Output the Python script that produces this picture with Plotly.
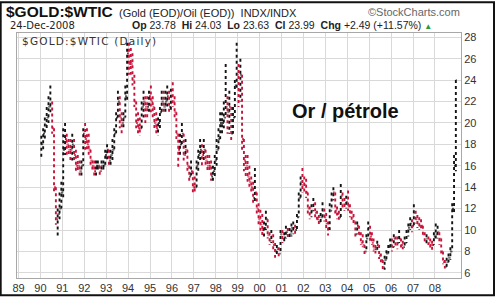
import pandas as pd
import plotly.graph_objects as go

# ---------------- data (monthly) ----------------
month_low = [
    # 1990
    16.8, 17.5, 18.5, 19.5, 20.0, 21.0, 19.0, 13.5, 10.5, 9.5, 11.0, 12.0,
    # 1991
    13.0, 17.0, 17.0, 17.0, 16.5, 16.5, 16.5, 15.5, 15.5, 15.0, 15.0, 16.0,
    # 1992
    17.5, 17.5, 17.0, 16.0, 15.5, 15.0, 15.0, 15.5, 15.0, 15.5, 15.5, 16.0,
    # 1993
    16.5, 16.0, 16.0, 16.5, 17.5, 19.0, 20.5, 19.5, 19.0, 19.5, 20.5, 22.0,
    # 1994
    24.5, 24.5, 23.5, 21.5, 19.5, 19.0, 18.8, 19.5, 20.5, 20.0, 20.5, 21.0,
    # 1995
    21.0, 20.5, 19.5, 19.0, 18.8, 19.5, 21.0, 21.0, 21.0, 21.5, 21.0, 21.0,
    # 1996
    21.5, 20.5, 18.5, 15.8, 17.0, 18.0, 16.5, 17.0, 15.5, 14.5, 15.0, 13.4,
    # 1997
    13.4, 14.0, 15.5, 16.5, 16.0, 16.5, 16.0, 15.5, 15.5, 14.6, 14.6, 15.0,
    # 1998
    16.0, 17.5, 18.5, 19.0, 19.5, 20.5, 19.0, 19.0, 18.2, 19.5, 20.5, 23.0,
    # 1999
    21.5, 22.0, 17.5, 15.5, 15.0, 14.5, 14.0, 13.5, 12.5, 12.5, 11.5, 10.5,
    # 2000
    9.8, 9.5, 9.2, 10.0, 9.2, 8.6, 8.8, 8.2, 7.4, 7.6, 7.4, 7.8,
    # 2001
    8.8, 8.8, 9.2, 9.2, 9.2, 9.4, 9.6, 9.5, 10.0, 11.5, 12.8, 13.5,
    # 2002
    13.5, 13.0, 11.5, 11.0, 11.2, 11.8, 11.2, 10.7, 10.4, 10.6, 11.2, 10.8,
    # 2003
    10.2, 9.5, 10.0, 12.0, 12.8, 11.5, 11.0, 10.8, 11.5, 12.0, 11.8, 12.0,
    # 2004
    11.8, 11.2, 10.8, 10.4, 9.2, 9.6, 9.4, 8.6, 8.4, 7.6, 8.2, 9.2,
    # 2005
    9.0, 8.6, 8.0, 7.8, 8.0, 7.3, 7.0, 6.2, 6.3, 7.0, 7.8, 8.2,
    # 2006
    8.0, 8.5, 8.4, 8.2, 8.8, 8.2, 8.2, 8.4, 8.8, 9.4, 10.0, 9.8,
    # 2007
    10.4, 10.6, 10.2, 10.0, 10.0, 9.4, 8.8, 8.6, 8.6, 8.2, 8.0, 8.6,
    # 2008
    9.0, 9.2, 8.6, 7.8, 6.8, 6.4, 6.4, 7.0, 7.2, 8.0, 11.5, 15.5,
]

month_high = [
    # 1990
    18.8, 19.5, 20.5, 21.5, 22.5, 23.5, 22.0, 19.5, 14.0, 12.0, 13.5, 14.5,
    # 1991
    19.5, 20.0, 19.0, 18.5, 18.5, 19.0, 18.5, 17.5, 17.0, 16.5, 16.5, 19.5,
    # 1992
    20.0, 19.5, 19.0, 17.5, 16.5, 16.5, 16.5, 16.5, 16.0, 16.5, 16.5, 17.5,
    # 1993
    18.0, 17.5, 17.5, 18.5, 19.5, 21.0, 23.0, 22.5, 21.0, 21.0, 23.5, 27.5,
    # 1994
    27.5, 27.0, 26.5, 24.5, 22.0, 21.0, 20.5, 22.0, 23.0, 22.5, 22.5, 23.0,
    # 1995
    23.5, 22.5, 21.5, 21.0, 20.5, 21.5, 23.0, 23.0, 23.0, 23.5, 23.0, 23.2,
    # 1996
    23.8, 22.5, 21.0, 18.5, 19.0, 20.0, 18.5, 18.5, 17.5, 16.0, 16.5, 15.5,
    # 1997
    15.0, 16.5, 17.5, 18.5, 18.0, 18.5, 17.5, 17.0, 17.0, 16.5, 16.0, 17.0,
    # 1998
    18.5, 19.5, 21.0, 21.0, 22.0, 25.5, 22.5, 23.0, 21.0, 21.5, 24.0, 27.5,
    # 1999
    25.5, 26.0, 23.0, 18.0, 17.0, 17.0, 16.0, 15.0, 14.5, 15.8, 13.5, 12.5,
    # 2000
    11.9, 11.5, 10.8, 11.8, 11.0, 9.8, 10.0, 9.6, 8.8, 8.6, 8.4, 10.0,
    # 2001
    10.0, 9.8, 10.4, 10.2, 10.2, 10.6, 10.8, 10.5, 11.5, 13.5, 15.0, 15.8,
    # 2002
    15.0, 14.8, 13.5, 12.2, 12.4, 13.0, 12.6, 11.8, 11.4, 11.6, 12.6, 12.0,
    # 2003
    11.6, 10.8, 12.5, 13.5, 14.0, 13.2, 12.2, 11.8, 14.3, 13.5, 13.0, 13.2,
    # 2004
    13.7, 12.4, 11.8, 11.5, 10.6, 10.8, 10.4, 9.8, 9.6, 8.6, 9.6, 10.8,
    # 2005
    10.4, 9.8, 9.2, 8.6, 9.0, 8.4, 7.8, 7.2, 7.6, 8.1, 8.6, 9.2,
    # 2006
    9.2, 9.6, 9.4, 9.4, 10.0, 9.2, 9.0, 9.4, 10.0, 10.6, 11.2, 11.0,
    # 2007
    12.4, 11.8, 11.4, 11.2, 11.0, 10.4, 9.8, 9.6, 9.4, 9.2, 9.0, 9.8,
    # 2008
    10.6, 10.4, 9.8, 9.0, 8.0, 7.2, 7.4, 7.8, 8.4, 12.5, 17.0, 24.0,
]

month_close = [
    # 1990
    18.0, 19.0, 19.8, 20.5, 21.5, 21.8, 19.5, 14.0, 11.0, 11.5, 12.0, 13.5,
    # 1991
    17.5, 18.5, 18.0, 17.5, 17.5, 18.0, 17.0, 16.0, 16.0, 15.5, 16.0, 19.0,
    # 1992
    18.5, 18.0, 17.5, 16.5, 16.0, 15.5, 16.0, 16.0, 15.5, 16.0, 16.0, 17.0,
    # 1993
    17.5, 16.5, 17.0, 17.5, 19.0, 20.5, 22.0, 20.5, 20.0, 20.5, 22.5, 26.5,
    # 1994
    25.5, 25.5, 24.0, 22.0, 20.0, 19.5, 19.5, 21.5, 22.0, 21.5, 21.5, 22.5,
    # 1995
    22.0, 21.5, 20.0, 19.5, 20.0, 21.0, 22.0, 21.5, 22.0, 22.5, 21.5, 22.5,
    # 1996
    22.0, 21.0, 19.0, 17.5, 18.0, 19.0, 17.0, 17.5, 16.0, 15.0, 15.5, 14.0,
    # 1997
    14.0, 16.0, 17.0, 17.5, 17.0, 17.5, 16.5, 16.0, 16.0, 15.0, 15.5, 16.5,
    # 1998
    17.5, 18.5, 20.0, 20.0, 20.5, 21.5, 21.0, 21.5, 19.0, 20.5, 23.5, 24.5,
    # 1999
    23.0, 24.5, 18.5, 16.5, 16.0, 15.0, 14.5, 14.0, 13.0, 13.5, 12.0, 11.0,
    # 2000
    10.5, 10.0, 10.2, 11.0, 9.5, 9.0, 9.4, 8.6, 8.0, 8.2, 7.8, 9.6,
    # 2001
    9.2, 9.3, 9.8, 9.5, 9.6, 10.2, 10.2, 10.0, 11.2, 13.0, 14.5, 14.2,
    # 2002
    14.2, 13.5, 12.0, 11.6, 11.8, 12.4, 11.6, 11.0, 10.8, 11.2, 11.8, 11.2,
    # 2003
    10.6, 10.2, 11.8, 12.8, 13.5, 11.8, 11.5, 11.2, 13.2, 12.4, 12.4, 12.6,
    # 2004
    12.2, 11.6, 11.2, 10.8, 9.6, 10.4, 9.6, 8.8, 8.6, 8.0, 9.2, 10.2,
    # 2005
    9.4, 8.8, 8.2, 8.2, 8.6, 7.6, 7.2, 6.5, 7.2, 7.8, 8.4, 8.6,
    # 2006
    8.4, 9.2, 8.8, 8.8, 9.2, 8.6, 8.4, 8.8, 9.8, 10.2, 10.6, 10.4,
    # 2007
    11.6, 11.0, 10.6, 10.4, 10.4, 9.6, 9.0, 9.2, 8.8, 8.6, 8.6, 9.4,
    # 2008
    9.6, 9.8, 9.2, 8.0, 7.0, 6.6, 7.0, 7.4, 8.0, 12.0, 16.0, 24.0,
]

first_open = 17.0
year_labels = ["89", "90", "91", "92", "93", "94", "95", "96", "97", "98",
               "99", "00", "01", "02", "03", "04", "05", "06", "07", "08"]
y_ticks = [6, 8, 10, 12, 14, 16, 18, 20, 22, 24, 26, 28]

# ---------------- build ----------------
dates = pd.date_range("1990-01-01", periods=len(month_close), freq="MS") + pd.Timedelta(days=14)
opens = [first_open] + month_close[:-1]
highs = [max(h, o, c) for h, o, c in zip(month_high, opens, month_close)]
lows = [min(l, o, c) for l, o, c in zip(month_low, opens, month_close)]

W, H = 495, 306
PL, PR, PT, PB = 17.3, 461.0, 33.0, 287.0


def px(x):
    return (x - PL) / (PR - PL)


def py(y):
    return (PB - y) / (PB - PT)


fig = go.Figure()
fig.add_trace(go.Ohlc(
    x=dates, open=opens, high=highs, low=lows, close=month_close,
    increasing=dict(line=dict(color="#141414", width=1.9, dash="dot")),
    decreasing=dict(line=dict(color="#c8143a", width=1.9, dash="dot")),
    tickwidth=0.45, showlegend=False, hoverinfo="skip",
))

tick_dates = [pd.Timestamp(f"{1989 + i}-01-01") for i in range(len(year_labels))]

fig.update_layout(
    width=W, height=H,
    margin=dict(l=PL, r=W - PR, t=PT, b=H - PB),
    paper_bgcolor="white", plot_bgcolor="white",
    font=dict(family="Liberation Sans, Arial, sans-serif", size=11, color="#333"),
    xaxis=dict(
        range=[pd.Timestamp("1988-12-06"), pd.Timestamp("2009-03-11")],
        tickvals=tick_dates, ticktext=year_labels,
        showgrid=True, gridcolor="#d9d9d9", gridwidth=1,
        showline=True, linecolor="#a8a8a8", mirror=True,
        ticks="", zeroline=False,
        rangeslider=dict(visible=False),
        tickfont=dict(size=11, color="#333"),
    ),
    yaxis=dict(
        range=[5.52, 28.4], side="right",
        tickvals=y_ticks,
        showgrid=True, gridcolor="#d9d9d9", gridwidth=1,
        showline=True, linecolor="#a8a8a8", mirror=True,
        ticks="", zeroline=False,
        tickfont=dict(size=11, color="#333"),
    ),
)

ann = [
    dict(x=px(4), y=py(11), text="<b>$GOLD:$WTIC</b>", font=dict(size=15.5, color="#111")),
    dict(x=px(117), y=py(12), text="(Gold (EOD)/Oil (EOD))  INDX/INDX", font=dict(size=11, color="#222")),
    dict(x=px(366), y=py(11), text="©StockCharts.com", font=dict(size=11, color="#666")),
    dict(x=px(8), y=py(25), text="24-Dec-2008",
         font=dict(family="DejaVu Sans, Verdana, sans-serif", size=10, color="#222")),
    dict(x=px(130), y=py(25),
         text="<b>Op</b> 23.78  <b>Hi</b> 24.03  <b>Lo</b> 23.63  <b>Cl</b> 23.99  <b>Chg</b> +2.49 (+11.57%) "
              "<span style='color:#2a9a3a;font-size:8px'>▲</span>",
         font=dict(size=10.5, color="#222")),
    dict(x=px(20), y=py(41),
         text="<span style='letter-spacing:1.2px'>$GOLD:$WTIC (Daily)</span>",
         font=dict(family="DejaVu Sans, Verdana, sans-serif", size=10.5, color="#333")),
    dict(x=px(290), y=py(114), text="<b>Or / pétrole</b>",
         font=dict(family="Liberation Sans, Arial, sans-serif", size=20, color="#111", style="normal")),
]
for a in ann:
    a.update(xref="paper", yref="paper", xanchor="left", yanchor="middle", showarrow=False)
fig.update_layout(annotations=ann)

# outer black frame
fig.add_shape(type="rect", xref="paper", yref="paper",
              x0=px(1), x1=px(494), y0=py(1), y1=py(305),
              line=dict(color="#111", width=2), fillcolor="rgba(0,0,0,0)", layer="above")

fig.write_html("out.html")
